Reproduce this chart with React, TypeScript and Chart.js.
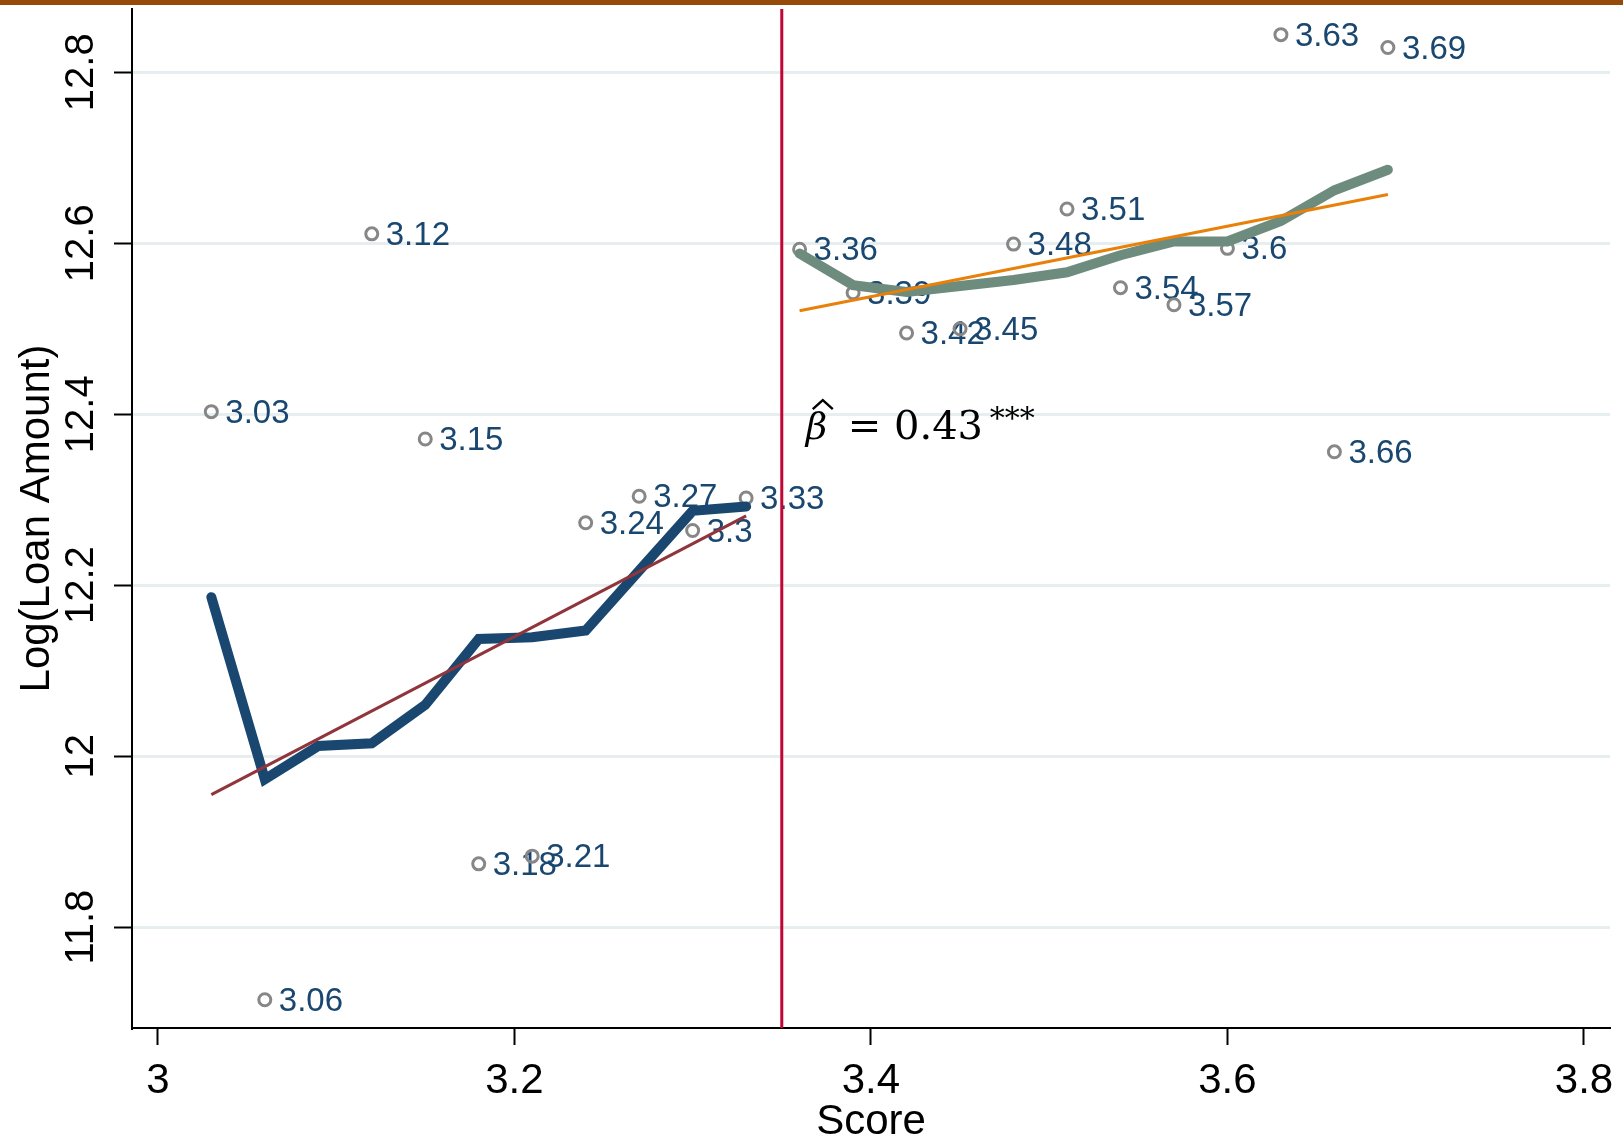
import { useEffect, useRef } from "react";
import { Chart, registerables } from "chart.js";

Chart.register(...registerables);

// Binned scatter (score bins, mean log loan amount)
const BIN_SCORES = [3.03, 3.06, 3.12, 3.15, 3.18, 3.21, 3.24, 3.27, 3.3, 3.33, 3.36, 3.39, 3.42, 3.45, 3.48, 3.51, 3.54, 3.57, 3.6, 3.63, 3.66, 3.69];
const BIN_MEANS = [12.403, 11.715, 12.611, 12.371, 11.874, 11.883, 12.273, 12.304, 12.264, 12.302, 12.593, 12.542, 12.495, 12.5, 12.599, 12.64, 12.548, 12.528, 12.594, 12.844, 12.356, 12.829];
const BIN_LABELS = ["3.03", "3.06", "3.12", "3.15", "3.18", "3.21", "3.24", "3.27", "3.3", "3.33", "3.36", "3.39", "3.42", "3.45", "3.48", "3.51", "3.54", "3.57", "3.6", "3.63", "3.66", "3.69"];

// Smoothed lines left / right of the cutoff
const LEFT_X = [3.03, 3.06, 3.09, 3.12, 3.15, 3.18, 3.21, 3.24, 3.27, 3.3, 3.33];
const LEFT_Y = [12.186, 11.973, 12.012, 12.015, 12.06, 12.137, 12.139, 12.147, 12.217, 12.287, 12.292];
const RIGHT_X = [3.36, 3.39, 3.42, 3.45, 3.48, 3.51, 3.54, 3.57, 3.6, 3.63, 3.66, 3.69];
const RIGHT_Y = [12.588, 12.551, 12.543, 12.55, 12.557, 12.566, 12.586, 12.602, 12.602, 12.626, 12.662, 12.686];

// Linear fits
const FIT_LEFT_X = [3.03, 3.33];
const FIT_LEFT_Y = [11.955, 12.281];
const FIT_RIGHT_X = [3.36, 3.69];
const FIT_RIGHT_Y = [12.521, 12.657];

const CUTOFF = 3.35;
const X_TICKS = [3, 3.2, 3.4, 3.6, 3.8];
const Y_TICKS = [11.8, 12, 12.2, 12.4, 12.6, 12.8];
const X_MIN = 2.9855;
const X_MAX = 3.8146;
const Y_MIN = 11.682;
const Y_MAX = 12.874;

const X_TITLE = "Score";
const Y_TITLE = "Log(Loan Amount)";
const BETA_SYMBOL = "β";
const BETA_TEXT = "= 0.43";
const BETA_STARS = "***";

const NAVY = "#1A476F";
const GREEN = "#6E8C7E";
const MAROON = "#90353B";
const ORANGE = "#E8800A";
const CRANBERRY = "#C10534";

const zip = (xs: number[], ys: number[]) => xs.map((x, i) => ({ x, y: ys[i] }));
const fmt = (v: number) => String(Number(v.toFixed(2)));

const annotPlugin = {
  id: "annot",
  beforeDraw(chart: any) {
    const { ctx, width, height } = chart;
    ctx.save();
    ctx.fillStyle = "#ffffff";
    ctx.fillRect(0, 0, width, height);
    ctx.fillStyle = "#964B0A";
    ctx.fillRect(0, 0, width, 5);
    ctx.restore();
  },
  beforeDatasetsDraw(chart: any) {
    const { ctx } = chart;
    const xs = chart.scales.x;
    const ys = chart.scales.y;
    ctx.save();
    ctx.font = '33px "Liberation Sans", Arial, sans-serif';
    ctx.fillStyle = NAVY;
    ctx.textAlign = "left";
    ctx.textBaseline = "middle";
    BIN_SCORES.forEach((s, i) => {
      const px = xs.getPixelForValue(s);
      const py = ys.getPixelForValue(BIN_MEANS[i]);
      ctx.fillText(BIN_LABELS[i], px + 14, py + 2);
    });
    ctx.restore();
  },
  afterDatasetsDraw(chart: any) {
    const { ctx, chartArea } = chart;
    const xs = chart.scales.x;
    const ys = chart.scales.y;
    ctx.save();
    // cutoff line
    const cx = xs.getPixelForValue(CUTOFF);
    ctx.strokeStyle = CRANBERRY;
    ctx.lineWidth = 3;
    ctx.beginPath();
    ctx.moveTo(cx, chartArea.top);
    ctx.lineTo(cx, chartArea.bottom);
    ctx.stroke();

    // beta annotation
    const bx = cx + 24;
    const by = ys.getPixelForValue(12.4) + 25;
    ctx.fillStyle = "#000000";
    ctx.strokeStyle = "#000000";
    ctx.textBaseline = "alphabetic";
    ctx.textAlign = "left";
    ctx.font = 'italic 37px "DejaVu Serif", serif';
    ctx.fillText(BETA_SYMBOL, bx, by);
    // hat
    ctx.lineWidth = 2.4;
    ctx.lineJoin = "miter";
    ctx.beginPath();
    ctx.moveTo(bx + 7, by - 30);
    ctx.lineTo(bx + 17, by - 39);
    ctx.lineTo(bx + 27, by - 30);
    ctx.stroke();
    ctx.font = '40px "DejaVu Serif", serif';
    ctx.fillText(BETA_TEXT, bx + 42, by);
    ctx.font = '30px "DejaVu Serif", serif';
    ctx.fillText(BETA_STARS, bx + 184, by - 11);
    ctx.restore();
  },
  afterDraw(chart: any) {
    const { ctx, chartArea } = chart;
    const xs = chart.scales.x;
    const ys = chart.scales.y;
    ctx.save();
    ctx.fillStyle = "#000000";
    // x tick labels
    ctx.font = '42px "Liberation Sans", Arial, sans-serif';
    ctx.textAlign = "center";
    ctx.textBaseline = "alphabetic";
    X_TICKS.forEach((v) => {
      ctx.fillText(fmt(v), xs.getPixelForValue(v), chartArea.bottom + 65);
    });
    // x title
    ctx.fillText(X_TITLE, (chartArea.left + chartArea.right) / 2, chartArea.bottom + 106);
    // y tick labels
    ctx.font = '40px "Liberation Sans", Arial, sans-serif';
    ctx.textBaseline = "middle";
    Y_TICKS.forEach((v) => {
      ctx.save();
      ctx.translate(82, ys.getPixelForValue(v));
      ctx.rotate(-Math.PI / 2);
      ctx.fillText(fmt(v), 0, 0);
      ctx.restore();
    });
    // y title
    ctx.font = '42px "Liberation Sans", Arial, sans-serif';
    ctx.save();
    ctx.translate(37, (chartArea.top + chartArea.bottom) / 2);
    ctx.rotate(-Math.PI / 2);
    ctx.fillText(Y_TITLE, 0, 0);
    ctx.restore();
    ctx.restore();
  },
};

export default function App() {
  const ref = useRef<HTMLCanvasElement>(null);
  useEffect(() => {
    document.body.style.margin = "0";
    const canvas = ref.current!;
    const chart = new Chart(canvas, {
      type: "scatter",
      data: {
        datasets: [
          {
            label: "fit left",
            data: zip(FIT_LEFT_X, FIT_LEFT_Y),
            showLine: true,
            borderColor: MAROON,
            borderWidth: 3,
            pointRadius: 0,
            order: 0,
          },
          {
            label: "fit right",
            data: zip(FIT_RIGHT_X, FIT_RIGHT_Y),
            showLine: true,
            borderColor: ORANGE,
            borderWidth: 3,
            pointRadius: 0,
            order: 0,
          },
          {
            label: "left",
            data: zip(LEFT_X, LEFT_Y),
            showLine: true,
            borderColor: NAVY,
            borderWidth: 10,
            borderCapStyle: "round",
            borderJoinStyle: "miter",
            pointRadius: 0,
            order: 1,
          },
          {
            label: "right",
            data: zip(RIGHT_X, RIGHT_Y),
            showLine: true,
            borderColor: GREEN,
            borderWidth: 10,
            borderCapStyle: "round",
            borderJoinStyle: "miter",
            pointRadius: 0,
            order: 1,
          },
          {
            label: "bins",
            data: zip(BIN_SCORES, BIN_MEANS),
            showLine: false,
            pointStyle: "circle",
            pointRadius: 6,
            pointBorderWidth: 3,
            pointBorderColor: "#878787",
            pointBackgroundColor: "rgba(255,255,255,0)",
            order: 2,
          },
        ],
      },
      options: {
        responsive: false,
        animation: false,
        devicePixelRatio: 1,
        events: [],
        layout: { padding: { top: 8, right: 13, left: 0, bottom: 0 } },
        plugins: { legend: { display: false }, tooltip: { enabled: false } },
        scales: {
          x: {
            type: "linear",
            min: X_MIN,
            max: X_MAX,
            afterBuildTicks: (s: any) => {
              s.ticks = X_TICKS.map((value) => ({ value }));
            },
            afterFit: (s: any) => {
              s.height = 113;
            },
            ticks: { display: false },
            grid: {
              drawOnChartArea: false,
              drawTicks: true,
              tickLength: 17,
              tickColor: "#000000",
              tickWidth: 2,
            },
            border: { display: true, color: "#000000", width: 2 },
          },
          y: {
            type: "linear",
            min: Y_MIN,
            max: Y_MAX,
            afterBuildTicks: (s: any) => {
              s.ticks = Y_TICKS.map((value) => ({ value }));
            },
            afterFit: (s: any) => {
              s.width = 132;
            },
            ticks: { display: false },
            grid: {
              color: "#E6EEEF",
              lineWidth: 3,
              drawTicks: true,
              tickLength: 18,
              tickColor: "#000000",
              tickWidth: 2,
            },
            border: { display: true, color: "#000000", width: 2 },
          },
        },
      },
      plugins: [annotPlugin],
    } as any);
    return () => chart.destroy();
  }, []);
  return (
    <canvas
      ref={ref}
      width={1623}
      height={1141}
      style={{ display: "block", width: "1623px", height: "1141px" }}
    />
  );
}
